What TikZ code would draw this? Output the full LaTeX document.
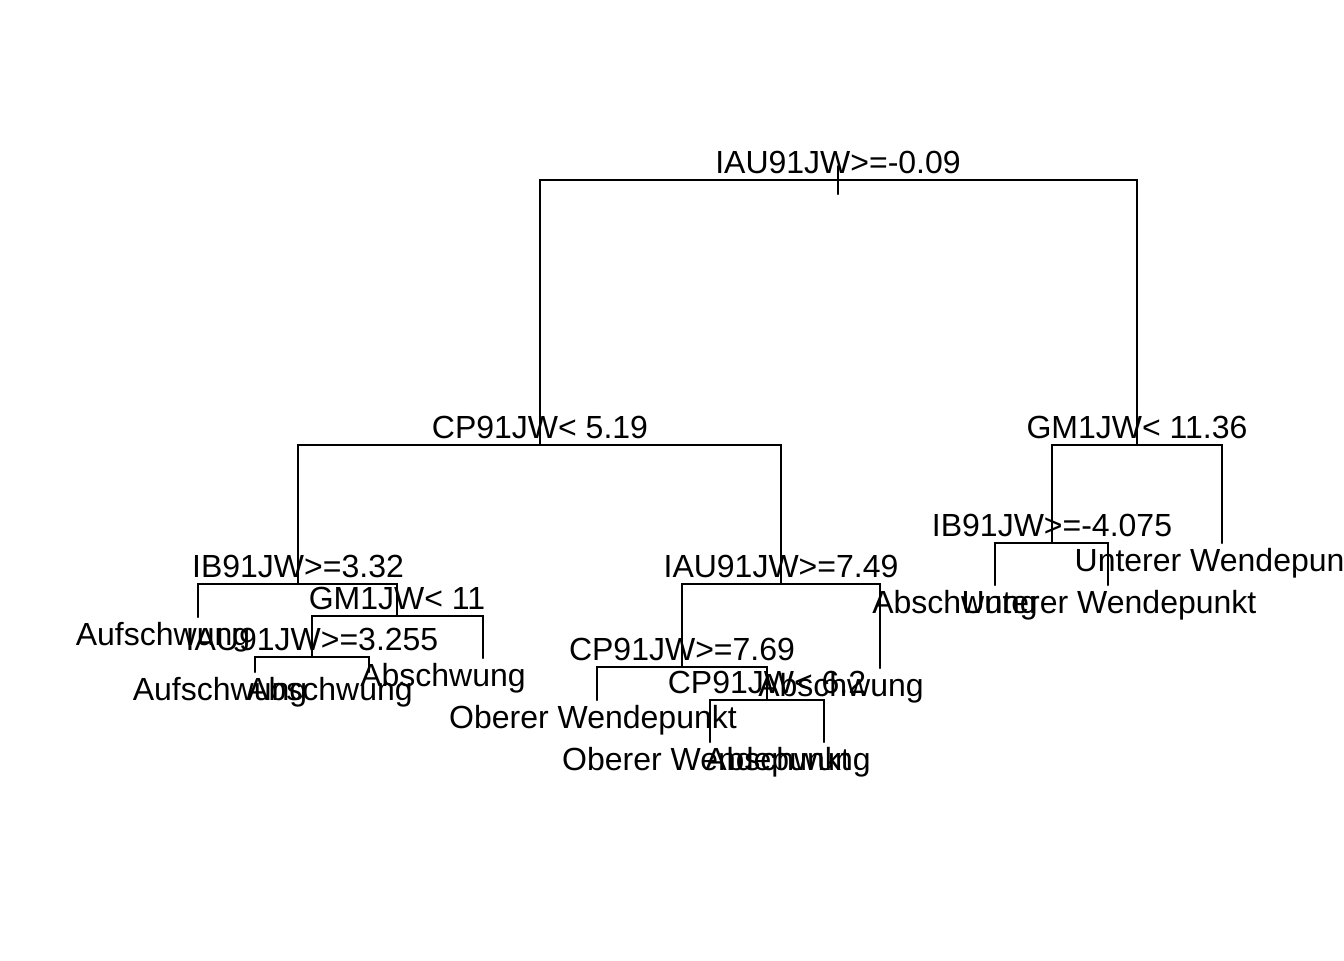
\documentclass[tikz,border=0pt]{standalone}
\usepackage{fontspec}
\setmainfont{Liberation Sans}
\usetikzlibrary{positioning}

\begin{document}
\begin{tikzpicture}[
  x=0.375pt, y=-0.375pt,
  branch/.style={line width=0.75pt, line cap=round},
  split/.style={anchor=base, inner sep=0pt, font=\fontsize{12}{14}\selectfont},
  leaf/.style={anchor=base, inner sep=0pt, font=\fontsize{12}{14}\selectfont},
]
\useasboundingbox (0,0) rectangle (1344,960);

% Split points
\coordinate (n1) at (838,180);
\coordinate (n2) at (540,445);
\coordinate (n3) at (1137,445);
\coordinate (n4) at (298,584);
\coordinate (n5) at (781,584);
\coordinate (n6) at (1052,543);
\coordinate (n9) at (397,616);
\coordinate (n10) at (682,667);
\coordinate (n18) at (312,657);
\coordinate (n21) at (767,700);

% Leaf ends
\coordinate (n7) at (1222,543);
\coordinate (n8) at (198,617);
\coordinate (n11) at (880,668);
\coordinate (n12) at (995,585);
\coordinate (n13) at (1108,585);
\coordinate (n19) at (483,658);
\coordinate (n20) at (597,700);
\coordinate (n36) at (255,672);
\coordinate (n37) at (369,672);
\coordinate (n42) at (710,742);
\coordinate (n43) at (824,742);

% Root stub
\coordinate (rtop) at (838,166);
\coordinate (rbot) at (838,194);
\draw[branch] (rtop) -- (rbot);

% Branches
\draw[branch] (n1) -| (n2) (n1) -| (n3);
\draw[branch] (n2) -| (n4) (n2) -| (n5);
\draw[branch] (n3) -| (n6) (n3) -| (n7);
\draw[branch] (n4) -| (n8) (n4) -| (n9);
\draw[branch] (n9) -| (n18) (n9) -| (n19);
\draw[branch] (n18) -| (n36) (n18) -| (n37);
\draw[branch] (n5) -| (n10) (n5) -| (n11);
\draw[branch] (n10) -| (n20) (n10) -| (n21);
\draw[branch] (n21) -| (n42) (n21) -| (n43);
\draw[branch] (n6) -| (n12) (n6) -| (n13);

% Split labels
\node[split] (s1) at (838,173) {IAU91JW>=-0.09};
\node[split] (s2) at (540,438) {CP91JW< 5.19};
\node[split] (s3) at (1137,438) {GM1JW< 11.36};
\node[split] (s4) at (298,577) {IB91JW>=3.32};
\node[split] (s5) at (781,577) {IAU91JW>=7.49};
\node[split] (s6) at (1052,536) {IB91JW>=-4.075};
\node[split] (s9) at (397,609) {GM1JW< 11};
\node[split] (s10) at (682,660) {CP91JW>=7.69};
\node[split] (s18) at (312,650) {IAU91JW>=3.255};
\node[split] (s21) at (767,693) {CP91JW< 6.2};

% Leaf labels
\node[leaf] (t7) at (1222,571) {Unterer Wendepunkt};
\node[leaf] (t8) at (163,645) {Aufschwung};
\node[leaf] (t11) at (841,696) {Abschwung};
\node[leaf] (t12) at (955,613) {Abschwung};
\node[leaf] (t13) at (1109,613) {Unterer Wendepunkt};
\node[leaf] (t19) at (443,686) {Abschwung};
\node[leaf] (t20) at (593,728) {Oberer Wendepunkt};
\node[leaf] (t36) at (220,700) {Aufschwung};
\node[leaf] (t37) at (330,700) {Abschwung};
\node[leaf] (t42) at (706,770) {Oberer Wendepunkt};
\node[leaf] (t43) at (788,770) {Abschwung};
\end{tikzpicture}
\end{document}
